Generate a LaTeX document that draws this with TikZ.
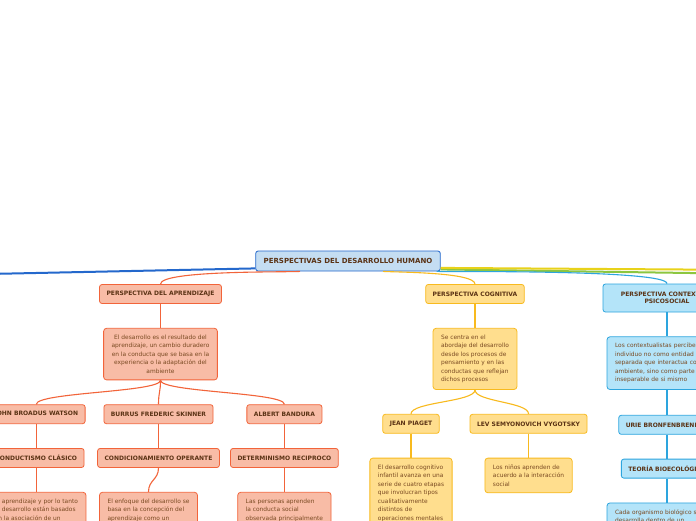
\documentclass[tikz,border=0pt]{standalone}
\usepackage{fontspec}
\setmainfont{DejaVu Sans}
\usetikzlibrary{positioning}
\definecolor{rootfill}{HTML}{C4DDF2}
\definecolor{rootline}{HTML}{2468CC}
\definecolor{aprfill}{HTML}{F8BCA6}
\definecolor{aprline}{HTML}{F2643A}
\definecolor{cogfill}{HTML}{FFDE8E}
\definecolor{cogline}{HTML}{F8BA1E}
\definecolor{ctxfill}{HTML}{B4E4F9}
\definecolor{ctxline}{HTML}{2DA5DE}
\definecolor{yellowline}{HTML}{E8D21A}
\definecolor{greenline}{HTML}{8CC63F}
\definecolor{titletext}{HTML}{5A3214}
\definecolor{bodytext}{HTML}{7A4A22}
\tikzset{
  topic/.style={draw, rounded corners=2.5pt, line width=0.8pt, align=center, font=\fontsize{6.0}{7.6}\selectfont\bfseries, text=titletext, minimum height=19pt, inner xsep=7pt, inner ysep=2pt},
  roottopic/.style={topic, fill=rootfill, draw=rootline, font=\fontsize{7.0}{8}\selectfont\bfseries, minimum height=20pt, inner xsep=8pt},
  note/.style={draw, rounded corners=3pt, line width=0.8pt, font=\fontsize{5.9}{8.5}\selectfont, text=bodytext, inner xsep=8pt, inner ysep=6.5pt},
  aprbox/.style={fill=aprfill, draw=aprline},
  cogbox/.style={fill=cogfill, draw=cogline},
  ctxbox/.style={fill=ctxfill, draw=ctxline},
  link/.style={line width=1.1pt},
  branch/.style={out=-90, in=90, distance=12pt}
}
\begin{document}
\begin{tikzpicture}[x=1pt, y=-1pt]
  \useasboundingbox (0,0) rectangle (696,520);
  \fill[white] (0,0) rectangle (696,520);
  \clip (0,0) rectangle (696,520);

  \node[roottopic] (root) at (348,261) {PERSPECTIVAS DEL DESARROLLO HUMANO};
  \coordinate (offleft) at (-60,275);
  \coordinate (offright1) at (760,270);
  \coordinate (offright2) at (760,274);

  % aprendizaje
  \node[topic, aprbox] (apr) at (160.5,294) {PERSPECTIVA DEL APRENDIZAJE};
  \node[note, aprbox, align=center, below=24pt of apr] (aprdef) {El desarrollo es el resultado del\\aprendizaje, un cambio duradero\\en la conducta que se basa en la\\experiencia o la adaptación del\\ambiente};
  \node[topic, aprbox, below=24pt of aprdef, xshift=-2pt] (skinner) {BURRUS FREDERIC SKINNER};
  \node[topic, aprbox, left=18pt of skinner] (watson) {JOHN BROADUS WATSON};
  \node[topic, aprbox, right=33pt of skinner] (bandura) {ALBERT BANDURA};
  \node[topic, aprbox, below=24pt of watson] (clasico) {CONDUCTISMO CLÁSICO};
  \node[topic, aprbox, below=24pt of skinner] (operante) {CONDICIONAMIENTO OPERANTE};
  \node[topic, aprbox, below=24pt of bandura] (reciproco) {DETERMINISMO RECIPROCO};
  \node[note, aprbox, align=left, below=24pt of clasico] (clasicodef) {El aprendizaje y por lo tanto\\el desarrollo están basados\\en la asociación de un};
  \node[note, aprbox, align=left, below=24pt of operante, xshift=-10pt] (operantedef) {El enfoque del desarrollo se\\basa en la concepción del\\aprendizaje como un};
  \node[note, aprbox, align=left, below=24pt of reciproco] (reciprocodef) {Las personas aprenden\\la conducta social\\observada principalmente};

  % cognitiva
  \node[topic, cogbox] (cog) at (475,294) {PERSPECTIVA COGNITIVA};
  \node[note, cogbox, align=left, below=24pt of cog] (cogdef) {Se centra en el\\abordaje del desarrollo\\desde los procesos de\\pensamiento y en las\\conductas que reflejan\\dichos procesos};
  \node[topic, cogbox, below=24pt of cogdef, xshift=-64pt] (piaget) {JEAN PIAGET};
  \node[topic, cogbox, right=30pt of piaget] (vygotsky) {LEV SEMYONOVICH VYGOTSKY};
  \node[note, cogbox, align=left, below=24pt of piaget] (piagetdef) {El desarrollo cognitivo\\infantil avanza en una\\serie de cuatro etapas\\que involucran tipos\\cualitativamente\\distintos de\\operaciones mentales};
  \node[note, cogbox, align=left, below=24pt of vygotsky] (vygotskydef) {Los niños aprenden de\\acuerdo a la interacción\\social};

  % contextual
  \node[topic, ctxbox, minimum height=28pt, minimum width=128pt] (ctx) at (667,298) {PERSPECTIVA CONTEXTUAL\\PSICOSOCIAL};
  \node[note, ctxbox, align=left, text width=104pt, below=24pt of ctx] (ctxdef) {Los contextualistas perciben al\\individuo no como entidad\\separada que interactua con el\\ambiente, sino como parte\\inseparable de si mismo};
  \node[topic, ctxbox, below=25pt of ctxdef] (bronf) {URIE BRONFENBRENNER};
  \node[topic, ctxbox, below=24pt of bronf] (bioeco) {TEORÍA BIOECOLÓGICA};
  \node[note, ctxbox, align=left, text width=104pt, below=24pt of bioeco] (bioecodef) {Cada organismo biológico se\\desarrolla dentro de un};

  \draw[rootline, line width=2pt] ([yshift=3pt]root.south west) -- (offleft);
  \draw[greenline, line width=2pt] ([yshift=2pt]root.south east) -- (offright2);
  \draw[yellowline, line width=2pt] ([yshift=3.5pt]root.south east) -- (offright1);
  \draw[link, ctxline] ([xshift=-4pt]root.south east) to[out=-2, in=90, distance=14pt] (ctx.north);
  \draw[link, aprline] ([xshift=-48pt]root.south) to[out=184, in=90, distance=14pt] (apr.north);
  \draw[link, cogline] ([xshift=35pt]root.south) to[out=-4, in=90, distance=12pt] (cog.north);

  \draw[link, aprline] (apr) -- (aprdef);
  \draw[link, aprline] (aprdef.south) to[branch] (watson.north);
  \draw[link, aprline] (aprdef.south) to[branch] (skinner.north);
  \draw[link, aprline] (aprdef.south) to[branch] (bandura.north);
  \draw[link, aprline] (watson) -- (clasico);
  \draw[link, aprline] (skinner) -- (operante);
  \draw[link, aprline] (bandura) -- (reciproco);
  \draw[link, aprline] (clasico) -- (clasicodef);
  \draw[link, aprline] (operante.south) to[branch] (operantedef.north);
  \draw[link, aprline] (reciproco) -- (reciprocodef);

  \draw[link, cogline] (cog) -- (cogdef);
  \draw[link, cogline] (cogdef.south) to[branch] (piaget.north);
  \draw[link, cogline] (cogdef.south) to[branch] (vygotsky.north);
  \draw[link, cogline] (piaget) -- (piagetdef);
  \draw[link, cogline] (vygotsky.south) -- (vygotskydef.north);

  \draw[link, ctxline] (ctx) -- (ctxdef);
  \draw[link, ctxline] (ctxdef) -- (bronf);
  \draw[link, ctxline] (bronf) -- (bioeco);
  \draw[link, ctxline] (bioeco) -- (bioecodef);
\end{tikzpicture}
\end{document}
